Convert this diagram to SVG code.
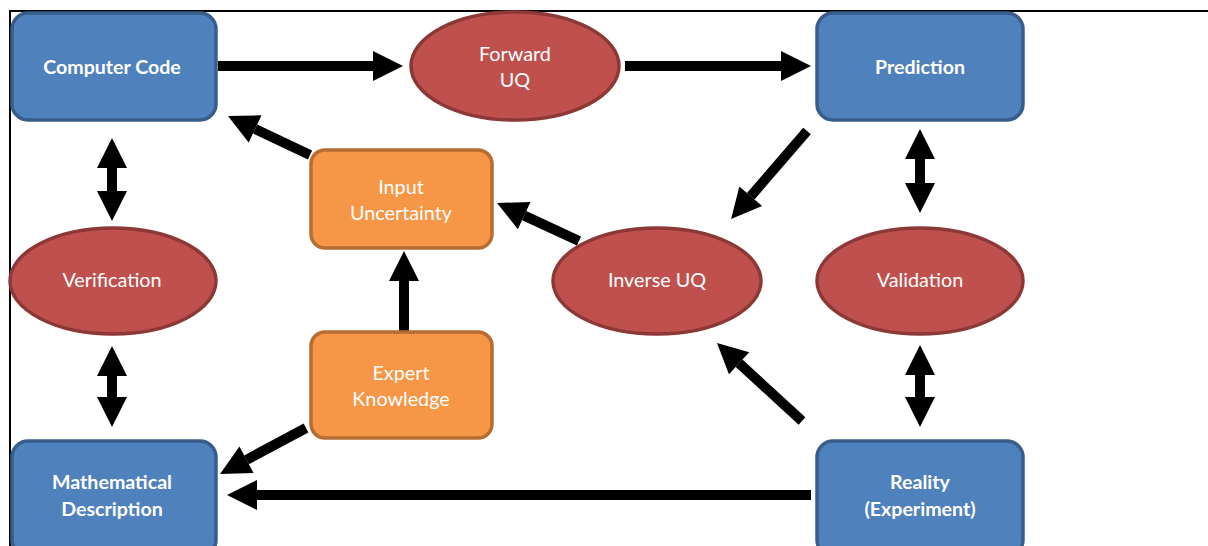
<svg xmlns="http://www.w3.org/2000/svg" width="1208" height="546" viewBox="0 0 1208 546">
<style>
.blue{fill:#4f81bd;stroke:#385d8a;stroke-width:3.5}
.red{fill:#c0504d;stroke:#8c3836;stroke-width:3.5}
.orange{fill:#f79646;stroke:#b66d31;stroke-width:3.5}
.tb{font-family:Lato,"Liberation Sans",sans-serif;font-weight:bold;font-size:19.6px;fill:#fff;text-anchor:middle}
.tr{font-family:Lato,"Liberation Sans",sans-serif;font-size:19.8px;fill:#fff;text-anchor:middle}
.ar{stroke:#000;stroke-width:10;fill:none;marker-end:url(#head)}
.da{stroke:#000;stroke-width:10;fill:none;marker-start:url(#head);marker-end:url(#head)}
</style>
<defs>
<marker id="head" markerUnits="userSpaceOnUse" markerWidth="30" markerHeight="30" refX="0" refY="15" orient="auto-start-reverse" overflow="visible">
<path d="M0,0 L30,15 L0,30 Z" fill="#000"/>
</marker>
</defs>
<rect width="1208" height="546" fill="#fff"/>
<g id="frame" stroke="#000" stroke-width="2">
<line x1="10" y1="11" x2="1208" y2="11"/>
<line x1="10" y1="10" x2="10" y2="546"/>
</g>
<g id="connectors">
<line class="ar" x1="218" y1="66" x2="373" y2="66"/>
<line class="ar" x1="625" y1="66" x2="781" y2="66"/>
<line class="ar" x1="807" y1="131" x2="750.7" y2="196.3"/>
<line class="ar" x1="579" y1="241" x2="524.2" y2="215.6"/>
<line class="ar" x1="310" y1="155" x2="255.1" y2="128.9"/>
<line class="ar" x1="404" y1="331" x2="404" y2="281"/>
<line class="ar" x1="306" y1="428" x2="246.5" y2="459.8"/>
<line class="ar" x1="811" y1="495" x2="257" y2="495"/>
<line class="ar" x1="802" y1="421" x2="739.1" y2="363.3"/>
<line class="da" x1="112" y1="168" x2="112" y2="191"/>
<line class="da" x1="112" y1="376" x2="112" y2="397"/>
<line class="da" x1="920" y1="159" x2="920" y2="183"/>
<line class="da" x1="920" y1="375" x2="920" y2="397"/>
</g>
<g id="computer-code">
<rect class="blue" x="12" y="13" width="204" height="107" rx="16"/>
<text class="tb" x="112" y="74">Computer Code</text>
</g>
<g id="forward-uq">
<ellipse class="red" cx="515" cy="66" rx="104" ry="54"/>
<text class="tr" x="515" y="61">Forward</text>
<text class="tr" x="515" y="87">UQ</text>
</g>
<g id="prediction">
<rect class="blue" x="817" y="13" width="206" height="107" rx="16"/>
<text class="tb" x="920" y="74">Prediction</text>
</g>
<g id="input-uncertainty">
<rect class="orange" x="311" y="150" width="181" height="98" rx="14"/>
<text class="tr" x="401" y="194">Input</text>
<text class="tr" x="401" y="220">Uncertainty</text>
</g>
<g id="verification">
<ellipse class="red" cx="113" cy="281" rx="103" ry="53"/>
<text class="tr" x="112" y="287">Verification</text>
</g>
<g id="inverse-uq">
<ellipse class="red" cx="657" cy="281" rx="104" ry="53"/>
<text class="tr" x="657" y="287">Inverse UQ</text>
</g>
<g id="validation">
<ellipse class="red" cx="920" cy="281" rx="103" ry="53"/>
<text class="tr" x="920" y="287">Validation</text>
</g>
<g id="expert-knowledge">
<rect class="orange" x="311" y="332" width="181" height="106" rx="14"/>
<text class="tr" x="401" y="380">Expert</text>
<text class="tr" x="401" y="406">Knowledge</text>
</g>
<g id="mathematical-description">
<rect class="blue" x="12" y="441" width="204" height="115" rx="16"/>
<text class="tb" x="112" y="489">Mathematical</text>
<text class="tb" x="112" y="516">Description</text>
</g>
<g id="reality">
<rect class="blue" x="817" y="441" width="206" height="115" rx="16"/>
<text class="tb" x="920" y="489">Reality</text>
<text class="tb" x="920" y="516">(Experiment)</text>
</g>
</svg>
